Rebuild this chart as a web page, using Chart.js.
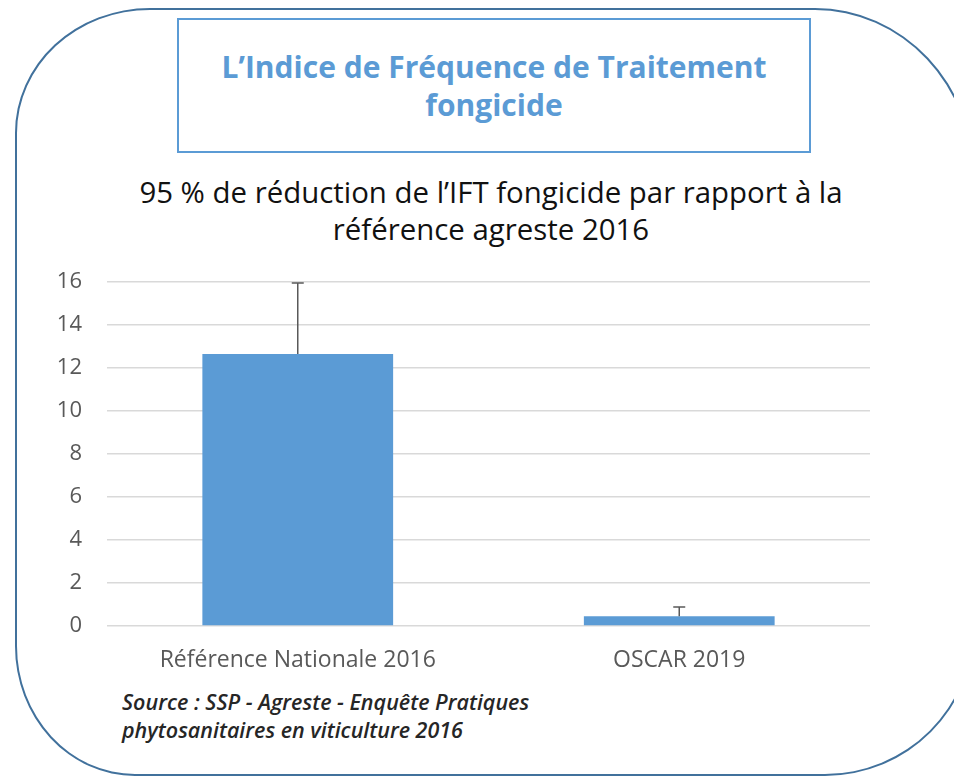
<!DOCTYPE html>
<html lang="fr">
<head>
<meta charset="utf-8">
<title>IFT fongicide</title>
<script src="https://cdn.jsdelivr.net/npm/chart.js@4.4.1/dist/chart.umd.min.js"></script>
<style>
  html, body { margin: 0; padding: 0; background: #fff; width: 954px; height: 779px; overflow: hidden; }
  .frame {
    position: absolute; left: 15px; top: 8px; width: 960px; height: 768px;
    border: 2px solid #41719c; box-sizing: border-box;
    border-radius: 135px 160px 150px 120px / 125px 170px 150px 130px;
  }
  .titlebox {
    position: absolute; left: 177px; top: 18px; width: 634px; height: 135px;
    border: 2px solid #5b9bd5; box-sizing: border-box;
    display: flex; align-items: center; justify-content: center; text-align: center;
    font-family: "Open Sans", Lato, sans-serif; font-weight: bold; font-size: 30px;
    line-height: 38px; color: #5b9bd5;
  }
  .subtitle {
    position: absolute; left: 91px; width: 800px; top: 174px; text-align: center;
    font-family: "Open Sans", Lato, sans-serif; font-size: 29.4px; line-height: 37px; color: #111;
  }
  .source {
    position: absolute; left: 122px; top: 688px;
    font-family: "Open Sans", Lato, sans-serif; font-style: italic; font-weight: 600;
    font-size: 21.5px; line-height: 28px; color: #262626;
  }
  #wrap { position: absolute; left: 0; top: 0; width: 954px; height: 779px; }
</style>
</head>
<body>
<div class="frame"></div>
<div class="titlebox">L’Indice de Fréquence de Traitement<br>fongicide</div>
<div class="subtitle">95 % de réduction de l’IFT fongicide par rapport à la<br>référence agreste 2016</div>
<div class="source">Source : SSP - Agreste - Enquête Pratiques<br>phytosanitaires en viticulture 2016</div>
<div id="wrap"><canvas id="ift"></canvas></div>
<script>
// données
const categories = ["Référence Nationale 2016", "OSCAR 2019"];
const iftValues = [12.65, 0.45];
const iftErrors = [3.3, 0.43];   // barre d'erreur (vers le haut)
const yTicks = [0, 2, 4, 6, 8, 10, 12, 14, 16];

// barres d'erreur dessinées par-dessus les barres
const errorBars = {
    id: 'errorBars',
    afterDatasetsDraw(chart) {
        const meta = chart.getDatasetMeta(0);
        const y = chart.scales.y;
        const ctx = chart.ctx;
        ctx.save();
        ctx.strokeStyle = '#595959';
        ctx.lineWidth = 1.5;
        meta.data.forEach((bar, i) => {
            let yTop = y.getPixelForValue(iftValues[i] + iftErrors[i]);
            let yBase = y.getPixelForValue(iftValues[i]);
            ctx.beginPath();
            ctx.moveTo(bar.x, yBase);
            ctx.lineTo(bar.x, yTop);
            ctx.moveTo(bar.x - 6, yTop);
            ctx.lineTo(bar.x + 6, yTop);
            ctx.stroke();
        });
        ctx.restore();
    }
};

new Chart(document.getElementById('ift'), {
    type: 'bar',
    data: {
        labels: categories,
        datasets: [{ data: iftValues, backgroundColor: '#5b9bd5', barPercentage: 0.5, categoryPercentage: 1.0 }]
    },
    options: {
        responsive: true, maintainAspectRatio: false, animation: false,
        layout: { padding: { top: 282, right: 84, bottom: 93, left: 0 } },
        plugins: {
            legend: { display: false },
            tooltip: { enabled: false }
        },
        scales: {
            x: {
                grid: { display: false }, border: { display: false },
                ticks: { color: '#595959', font: { family: 'Open Sans', size: 23, weight: '500' }, padding: 13 },
                afterFit: s => { s.height = 60; }
            },
            y: {
                min: 0, max: 16,
                afterBuildTicks: s => { s.ticks = yTicks.map(v => ({ value: v })); },
                grid: { color: '#d9d9d9', lineWidth: 1.5, drawTicks: false },
                border: { display: false },
                ticks: { color: '#595959', font: { family: 'Open Sans', size: 22, weight: '500' }, padding: 25 },
                afterFit: s => { s.width = 107; }
            }
        }
    },
    plugins: [errorBars]
});
</script>
</body>
</html>
